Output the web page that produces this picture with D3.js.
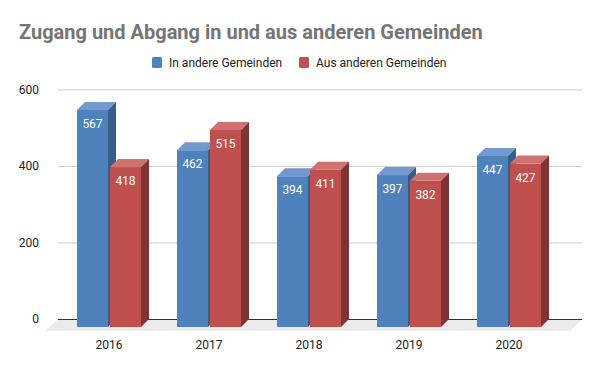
<!DOCTYPE html>
<html>
<head>
<meta charset="utf-8">
<script src="https://cdn.jsdelivr.net/npm/d3@7"></script>
<style>
  body { margin: 0; background: #fff; }
  text { font-family: Roboto, "Noto Sans", sans-serif; }
</style>
</head>
<body>
<svg width="600" height="371"></svg>
<script>
// data
let years = ["2016", "2017", "2018", "2019", "2020"]
let inAndere = [567, 462, 394, 397, 447]
let ausAnderen = [418, 515, 411, 382, 427]
let seriesNames = ["In andere Gemeinden", "Aus anderen Gemeinden"]
let yTicks = [0, 200, 400, 600]

let colors = [
  { front: "#4f81bd", top: "#729acf", side: "#385d89" },
  { front: "#c0504d", top: "#cd7270", side: "#7f3333" }
]

let svg = d3.select("svg")
let depth = 8

let x = d3.scaleBand().domain(years).range([59, 559])
let y = d3.scaleLinear().domain([0, 600]).range([327, 97.4])

// title
svg.append("text")
  .attr("x", 19)
  .attr("y", 39)
  .style("font-size", "20px")
  .style("font-weight", "bold")
  .style("fill", "#757575")
  .text("Zugang und Abgang in und aus anderen Gemeinden")

// legend
let legendX = [152, 299]
seriesNames.forEach((name, i) => {
  svg.append("rect")
    .attr("x", legendX[i])
    .attr("y", 57)
    .attr("width", 10)
    .attr("height", 11)
    .attr("rx", 1.5)
    .style("fill", colors[i].front)
  svg.append("text")
    .attr("x", legendX[i] + 17)
    .attr("y", 67)
    .style("font-size", "12px")
    .style("fill", "#222")
    .text(name)
})

// floor
svg.append("polygon")
  .attr("points", [[58, 319.5], [582, 319.5], [570, 331], [45, 331]].join(" "))
  .style("fill", "#ebebeb")

// gridlines on back wall
yTicks.forEach(t => {
  svg.append("line")
    .attr("x1", 58)
    .attr("x2", 582)
    .attr("y1", y(t) - depth + 0.5)
    .attr("y2", y(t) - depth + 0.5)
    .style("stroke", t === 0 ? "#333" : "#ccc")
    .style("stroke-width", 1)
  svg.append("text")
    .attr("x", 39)
    .attr("y", y(t) - depth)
    .attr("dy", "0.35em")
    .attr("text-anchor", "end")
    .style("font-size", "12px")
    .style("fill", "#222")
    .text(t)
})

let barW = 31
let drawBar = (x0, v, c) => {
  let top = y(v)
  let bottom = y(0)
  svg.append("rect")
    .attr("x", x0)
    .attr("y", top)
    .attr("width", barW)
    .attr("height", bottom - top)
    .style("fill", c.front)
  svg.append("polygon")
    .attr("points", [[x0, top], [x0 + barW, top], [x0 + barW + depth, top - depth], [x0 + depth, top - depth]].join(" "))
    .style("fill", c.top)
  svg.append("polygon")
    .attr("points", [[x0 + barW, top], [x0 + barW + depth, top - depth], [x0 + barW + depth, bottom - depth], [x0 + barW, bottom]].join(" "))
    .style("fill", c.side)
  svg.append("text")
    .attr("x", x0 + barW / 2)
    .attr("y", top + 18)
    .attr("text-anchor", "middle")
    .style("font-size", "12px")
    .style("fill", "#fff")
    .text(v)
}

years.forEach((yr, i) => {
  let cx = x(yr) + x.bandwidth() / 2
  drawBar(cx - 32, inAndere[i], colors[0])
  drawBar(cx + 1, ausAnderen[i], colors[1])
  svg.append("text")
    .attr("x", cx)
    .attr("y", 349)
    .attr("text-anchor", "middle")
    .style("font-size", "12px")
    .style("fill", "#222")
    .text(yr)
})
</script>
</body>
</html>
